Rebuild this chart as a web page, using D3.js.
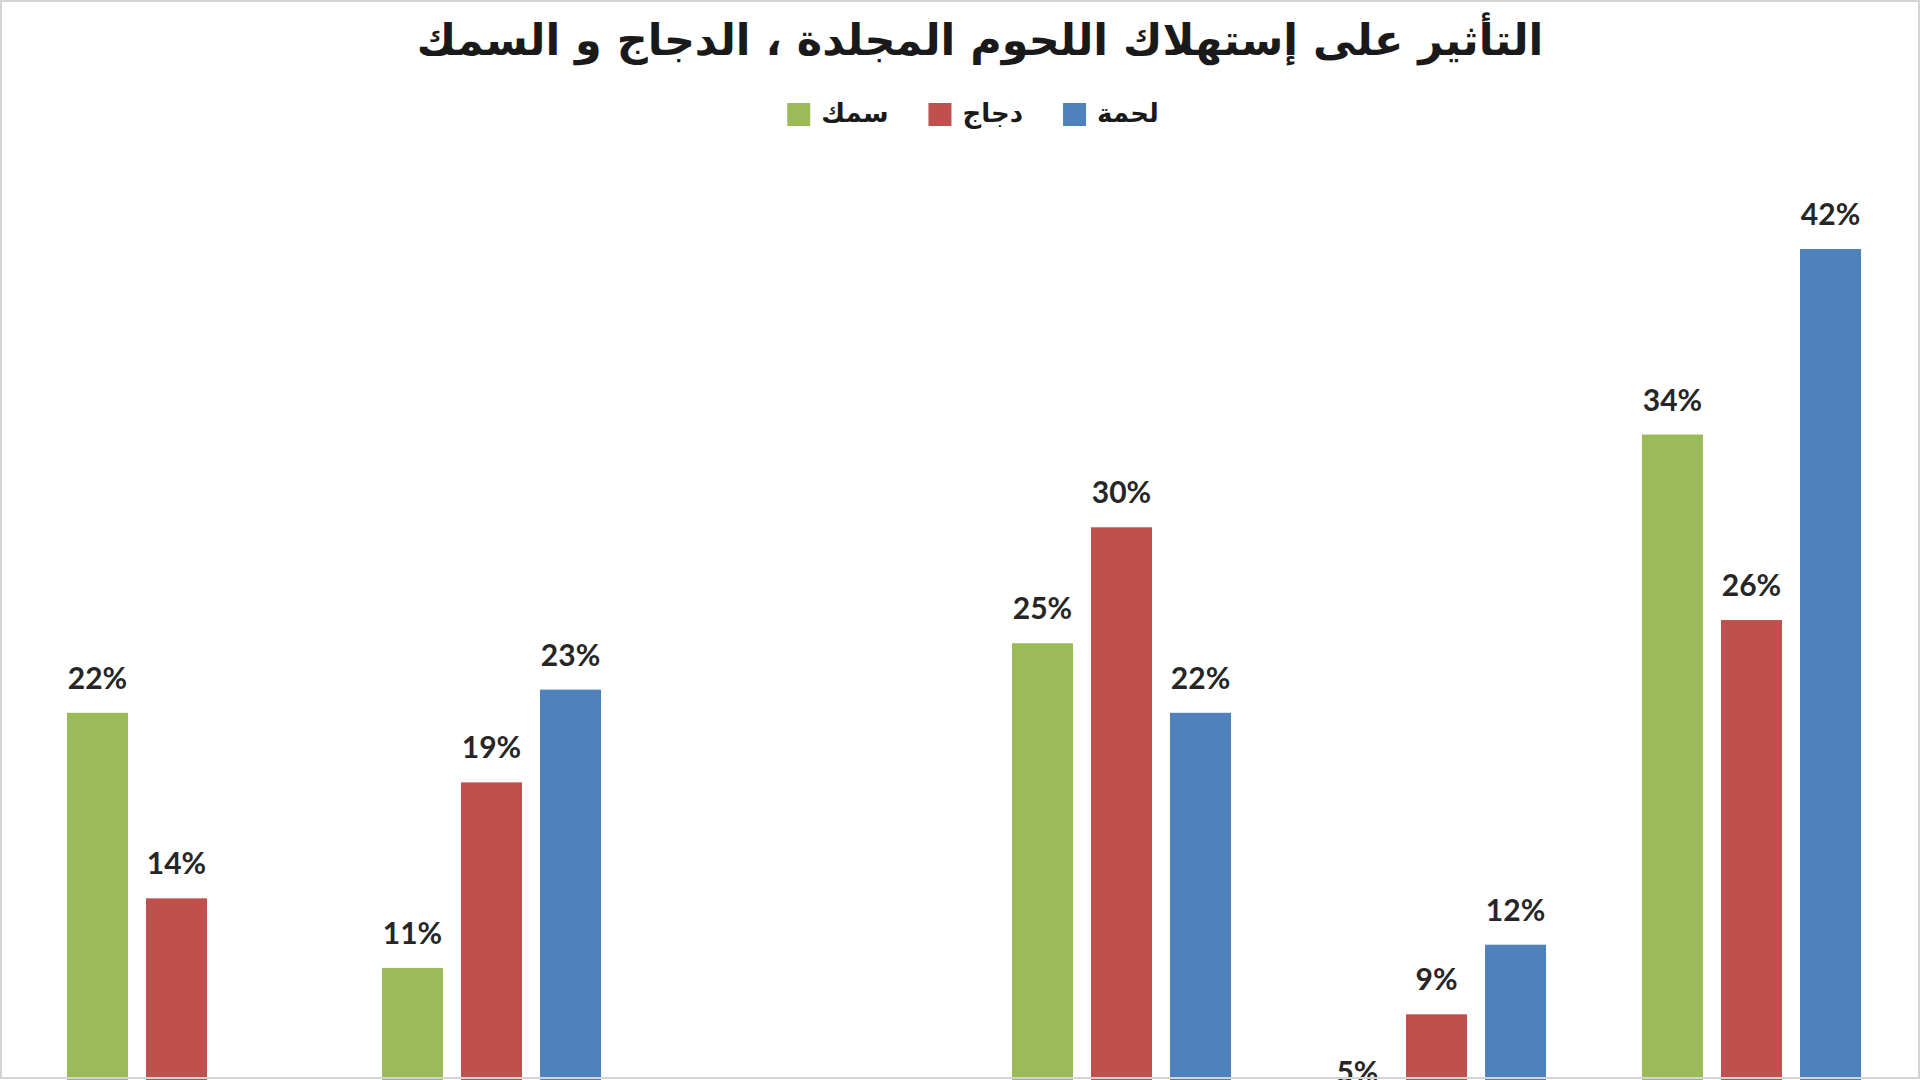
<!DOCTYPE html>
<html>
<head>
<meta charset="utf-8">
<script src="https://cdn.jsdelivr.net/npm/d3@7"></script>
<style>
  html, body { margin: 0; padding: 0; background: #fff; overflow: hidden; }
</style>
</head>
<body>
<svg></svg>
<script>
// chart values
let title = "التأثير على إستهلاك اللحوم المجلدة ، الدجاج و السمك"
let categories = ["1", "2", "3", "4", "5", "6"]
let seriesNames = ["سمك", "دجاج", "لحمة"]
let seriesColors = ["#9BBB59", "#C0504D", "#4F81BD"]
let fish = [22, 11, 4, 25, 5, 34]
let chicken = [14, 19, 4, 30, 9, 26]
let meat = [0, 23, 3, 22, 12, 42]

let width = 1920
let height = 1080

let svg = d3.select("svg")
    .attr("width", width)
    .attr("height", height)

// rows for each group, one entry per series
let rows = categories.map((c, i) => {
    return { cat: c, vals: [fish[i], chicken[i], meat[i]] }
})

// the baseline sits below the bottom of the picture (chart is cropped)
let yScale = d3.scaleLinear()
    .domain([0, 42])
    .range([1223, 249])

let x0 = d3.scaleBand()
    .domain(categories)
    .range([19, 19 + 6 * 315])

let x1 = d3.scaleBand()
    .domain(seriesNames)
    .range([0, x0.bandwidth()])
    .paddingInner(0.228)
    .paddingOuter(0.607)

let toItems = (d) => d.vals.map((v, j) => ({ name: seriesNames[j], v: v, j: j }))

// bars
let groups = svg.selectAll("g.group")
    .data(rows)
    .enter()
    .append("g")
    .attr("class", "group")
    .attr("transform", (d) => "translate(" + x0(d.cat) + ",0)")

groups.selectAll("rect")
    .data(toItems)
    .enter()
    .append("rect")
    .attr("x", (d) => x1(d.name))
    .attr("y", (d) => yScale(d.v))
    .attr("width", x1.bandwidth())
    .attr("height", (d) => yScale(0) - yScale(d.v))
    .attr("fill", (d) => seriesColors[d.j])

// value labels - the ones that fall wholly below the cropped picture are left out
groups.selectAll("text")
    .data((d) => toItems(d).filter((e) => yScale(e.v) - 24 - 22 < height))
    .enter()
    .append("text")
    .attr("x", (d) => x1(d.name) + x1.bandwidth() / 2)
    .attr("y", (d) => yScale(d.v) - 24)
    .attr("text-anchor", "middle")
    .attr("font-family", "Lato, 'Liberation Sans', sans-serif")
    .attr("font-weight", "bold")
    .attr("font-size", 30)
    .attr("fill", "#262626")
    .text((d) => d.v + "%")

// title, sized to the width it has in the picture
let titleText = svg.append("text")
    .attr("x", 980)
    .attr("y", 40)
    .attr("text-anchor", "middle")
    .attr("dominant-baseline", "central")
    .attr("font-family", "'DejaVu Sans', sans-serif")
    .attr("font-weight", "bold")
    .attr("font-size", 40)
    .attr("fill", "#1a1a1a")
    .text(title)

let tw = titleText.node().getComputedTextLength()
titleText.attr("font-size", 40 * 1127 / tw)

// legend: square then name, green / red / blue from left to right
let legend = svg.append("g")
let lx = 0
seriesNames.forEach((name, j) => {
    legend.append("rect")
        .attr("x", lx)
        .attr("y", 103)
        .attr("width", 23)
        .attr("height", 23)
        .attr("fill", seriesColors[j])
    let t = legend.append("text")
        .attr("x", lx + 34)
        .attr("y", 113)
        .attr("dominant-baseline", "central")
        .attr("font-family", "'DejaVu Sans', sans-serif")
        .attr("font-weight", "bold")
        .attr("font-size", 26)
        .attr("fill", "#1a1a1a")
        .text(name)
    lx += 34 + t.node().getComputedTextLength() + 40
})
let legendWidth = lx - 40
legend.attr("transform", "translate(" + (973 - legendWidth / 2) + ",0)")

// thin frame of the chart area
svg.append("rect")
    .attr("x", 1)
    .attr("y", 1)
    .attr("width", width - 2)
    .attr("height", height - 3)
    .attr("fill", "none")
    .attr("stroke", "#d4d4d4")
    .attr("stroke-width", 2)
</script>
</body>
</html>
